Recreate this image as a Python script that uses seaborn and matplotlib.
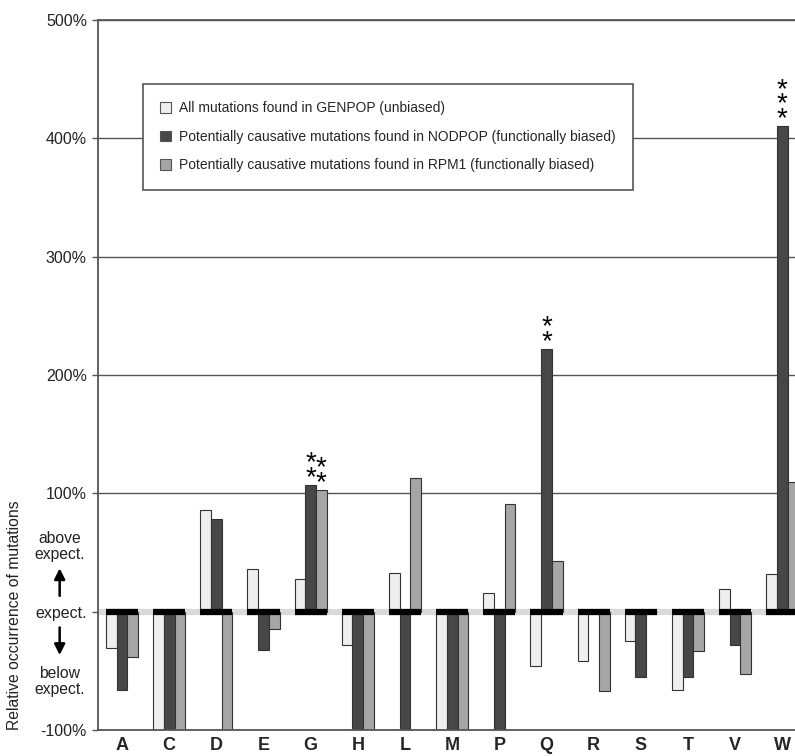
import pandas as pd
import matplotlib.pyplot as plt
from matplotlib.patches import Patch
import numpy as np
import seaborn as sns

sns.set_style('white')
plt.rcParams['font.family'] = ['Liberation Sans', 'DejaVu Sans']

# amino acids and relative occurrence (%) for the three mutation sets
amino_acids = ['A', 'C', 'D', 'E', 'G', 'H', 'L', 'M', 'P', 'Q', 'R', 'S', 'T', 'V', 'W']
genpop = [-31, -100, 86, 36, 28, -28, 33, -100, 16, -46, -42, -25, -66, 19, 32]
nodpop = [-66, -100, 78, -32, 107, -100, -100, -100, -100, 222, 0, -55, -55, -28, 410]
rpm1 = [-38, -100, -100, -15, 103, -100, 113, -100, 91, 43, -67, 0, -33, -53, 110]

series_names = ['All mutations found in GENPOP (unbiased)',
                'Potentially causative mutations found in NODPOP (functionally biased)',
                'Potentially causative mutations found in RPM1 (functionally biased)']
colors = ['#efefef', '#474747', '#a6a6a6']

# significance stars: amino acid, series index, number of stars
star_aa = ['G', 'G', 'Q', 'W']
star_series = [1, 2, 1, 1]
star_count = [2, 2, 2, 3]

yticks = [-100, 0, 100, 200, 300, 400, 500]
ytick_labels = ['-100%', 'expect.', '100%', '200%', '300%', '400%', '500%']

df = pd.DataFrame({
    'aa': amino_acids * 3,
    'series': [series_names[0]] * 15 + [series_names[1]] * 15 + [series_names[2]] * 15,
    'value': genpop + nodpop + rpm1,
})

fig = plt.figure(figsize=(7.95, 7.56), dpi=100)
ax = fig.add_axes([98 / 795, 26 / 756, 697 / 795, 710 / 756])

sns.barplot(data=df, x='aa', y='value', hue='series', hue_order=series_names,
            palette=colors, edgecolor='#333333', linewidth=0.8, width=0.68,
            errorbar=None, legend=False, ax=ax, zorder=1)

ax.set_ylim(-100, 500)
ax.set_xlim(-0.51, 14.27)
ax.set_axisbelow(True)
ax.yaxis.grid(True, color='#555555', linewidth=1.0)
ax.axhline(0, color='#d9d9d9', linewidth=4.5, zorder=0.8)

pos = np.arange(len(amino_acids))
ax.hlines(np.zeros(len(pos)), pos - 0.34, pos + 0.34, color='black', linewidth=4.5, zorder=3)

ax.set_yticks(yticks)
ax.set_yticklabels(ytick_labels, fontsize=11.5, color='#222222')
ax.tick_params(axis='y', left=True, length=4, width=1, color='#555555', pad=4)
ax.tick_params(axis='x', length=0, pad=5)
for lab in ax.get_xticklabels():
    lab.set_fontweight('bold')
    lab.set_fontsize(13)
ax.set_xlabel('')
ax.set_ylabel('')

for side in ['left', 'top', 'bottom']:
    ax.spines[side].set_color('#555555')
    ax.spines[side].set_linewidth(1.3)
ax.spines['right'].set_visible(False)

# stars above significant bars, one stacked text per bar
for aa, s, n in zip(star_aa, star_series, star_count):
    patch = ax.containers[s][amino_acids.index(aa)]
    x = patch.get_x() + patch.get_width() / 2
    top = patch.get_y() + patch.get_height()
    ax.annotate('\n'.join(['*'] * n), xy=(x, top), xytext=(0, -4.3), textcoords='offset points',
                ha='center', va='bottom', fontsize=20, color='black', linespacing=0.44)

# above / below expectation hints
ytr = ax.get_yaxis_transform()
ax.text(-0.055, 55, 'above\nexpect.', transform=ytr, ha='center', va='center',
        fontsize=11.3, color='#222222', linespacing=1.1)
ax.text(-0.055, -59, 'below\nexpect.', transform=ytr, ha='center', va='center',
        fontsize=11.3, color='#222222', linespacing=1.1)
arrow = dict(arrowstyle='-|>', color='black', lw=1.8, mutation_scale=16)
ax.annotate('', xy=(-0.055, 39), xytext=(-0.055, 11), xycoords=ytr, textcoords=ytr,
            arrowprops=arrow, annotation_clip=False)
ax.annotate('', xy=(-0.055, -39), xytext=(-0.055, -11), xycoords=ytr, textcoords=ytr,
            arrowprops=arrow, annotation_clip=False)

fig.text(15 / 795, 1 - 615 / 756, 'Relative occurrence of mutations', rotation=90,
         ha='center', va='center', fontsize=11.3, color='#222222')

handles = [Patch(facecolor=c, edgecolor='#555555', linewidth=0.8) for c in colors]
leg = ax.legend(handles, series_names, loc='upper left', bbox_to_anchor=(0.0646, 0.91),
                fontsize=10, frameon=True, fancybox=False, framealpha=1,
                handlelength=0.75, handleheight=0.75, labelspacing=1.05,
                borderpad=1.25, handletextpad=0.6, borderaxespad=0)
leg.get_frame().set_edgecolor('#555555')
leg.get_frame().set_linewidth(1.2)
leg.set_zorder(5)

plt.savefig('out.png', dpi=100)
